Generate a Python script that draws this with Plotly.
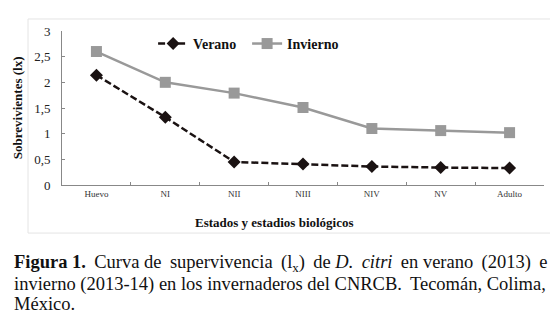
import plotly.graph_objects as go

stages = ["Huevo", "NI", "NII", "NIII", "NIV", "NV", "Adulto"]
verano = [2.14, 1.32, 0.45, 0.41, 0.36, 0.34, 0.33]
invierno = [2.60, 2.00, 1.79, 1.51, 1.10, 1.06, 1.02]
y_ticks = [0, 0.5, 1, 1.5, 2, 2.5, 3]

SERIF = "Liberation Serif"

fig = go.Figure()
fig.add_trace(go.Scatter(
    x=stages, y=verano, name="Verano", mode="lines+markers",
    line=dict(color="#1a1212", width=2.5, dash="7px,3px"),
    marker=dict(symbol="diamond", size=10, color="#1a1212"),
))
fig.add_trace(go.Scatter(
    x=stages, y=invierno, name="Invierno", mode="lines+markers",
    line=dict(color="#999999", width=2.5),
    marker=dict(symbol="square", size=11, color="#999999"),
))

fig.update_layout(
    width=550, height=321,
    margin=dict(l=62, r=6, t=31, b=136),
    paper_bgcolor="white", plot_bgcolor="white",
    separators=",.",
    font=dict(family=SERIF, color="#222222"),
    showlegend=True,
    legend=dict(
        orientation="h", x=0.189, y=0.916, xanchor="left", yanchor="middle",
        font=dict(family=SERIF, size=14, color="#111111", weight="bold"),
        bgcolor="rgba(0,0,0,0)", itemwidth=30, tracegroupgap=0,
        entrywidth=49, entrywidthmode="pixels",
    ),
)
fig.update_xaxes(
    type="category", range=[-0.5, 6.5],
    showline=True, linecolor="#888888", linewidth=1,
    ticks="inside", ticklen=3, tickcolor="#888888",
    tickson="boundaries",
    tickfont=dict(family=SERIF, size=9, color="#333333"),
    showgrid=False, zeroline=False,
)
fig.update_yaxes(
    range=[0, 3], tickvals=y_ticks,
    showline=True, linecolor="#888888", linewidth=1,
    ticks="inside", ticklen=3, tickcolor="#888888",
    tickfont=dict(family=SERIF, size=13, color="#222222"),
    ticklabelstandoff=8,
    showgrid=False, zeroline=False,
)

# light border around chart area
fig.add_shape(type="rect", xref="paper", yref="paper",
              x0=-0.0705, x1=1.02, y0=-0.312, y1=1.078,
              line=dict(color="#e4e4e4", width=1), layer="below")

fig.add_annotation(text="<b>Sobrevivientes (lx)</b>", textangle=-90,
                   xref="paper", yref="paper", x=-0.093, y=0.5,
                   xanchor="center", yanchor="middle", showarrow=False,
                   font=dict(family=SERIF, size=13, color="#111111"))
fig.add_annotation(text="<b>Estados y estadios biológicos</b>",
                   xref="paper", yref="paper", x=0.44, y=-0.245,
                   xanchor="center", yanchor="middle", showarrow=False,
                   font=dict(family=SERIF, size=13, color="#111111"))

cap_font = dict(family=SERIF, size=18.5, color="#111111")
T = "\u2009"  # thin space, used to justify the lines
lines = [
    ("<b>Figura 1.</b>" + T + " Curva de" + T + " supervivencia" + T
     + " (l<sub>x</sub>)" + T + " de <i>D." + T + " citri</i>" + T + " en"
     + " verano" + T + " (2013)" + T + " e"),
    "invierno (2013-14) en los invernaderos del CNRCB." + T + " Tecomán, Colima,",
    "México.",
]
ys = [263, 284, 304]
for t, yp in zip(lines, ys):
    fig.add_annotation(text=t, xref="paper", yref="paper",
                       x=(12 - 62) / 482, y=(185 - yp) / 154,
                       xanchor="left", yanchor="middle", showarrow=False,
                       font=cap_font)

fig.write_html("out.html", config={"displayModeBar": False},
               post_script="document.body.style.margin='0px';")
